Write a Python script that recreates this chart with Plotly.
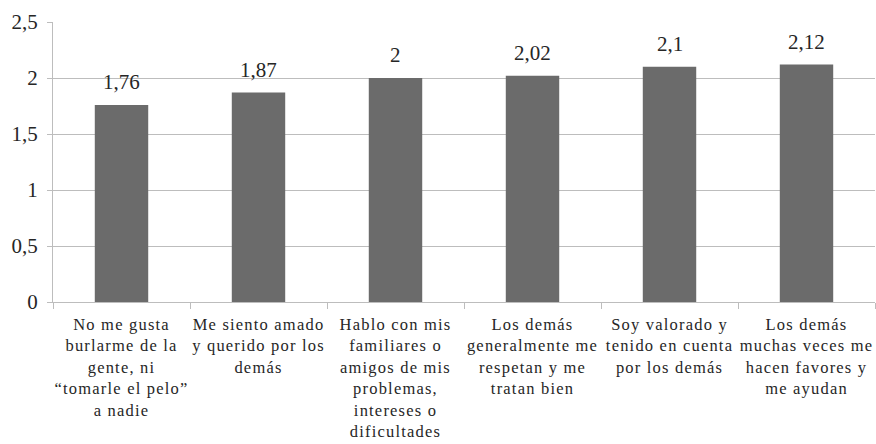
import plotly.graph_objects as go

categories = [
    "No me gusta<br>burlarme de la<br>gente, ni<br>“tomarle el pelo”<br>a nadie",
    "Me siento amado<br>y querido por los<br>demás",
    "Hablo con mis<br>familiares o<br>amigos de mis<br>problemas,<br>intereses o<br>dificultades",
    "Los demás<br>generalmente me<br>respetan y me<br>tratan bien",
    "Soy valorado y<br>tenido en cuenta<br>por los demás",
    "Los demás<br>muchas veces me<br>hacen favores y<br>me ayudan",
]
values = [1.76, 1.87, 2.0, 2.02, 2.1, 2.12]
y_ticks = [0, 0.5, 1, 1.5, 2, 2.5]

FONT = "Liberation Serif"
TEXT = "#262626"
GRID = "#bdbdbd"


def fmt(v):
    return f"{v:g}".replace(".", ",")


def spaced(label):
    # slightly wider tracking for the category captions
    return "<br>".join(
        f'<span style="letter-spacing:1.2px">{line}</span>' for line in label.split("<br>")
    )


fig = go.Figure(
    go.Bar(
        x=categories,
        y=values,
        marker=dict(color="#6b6b6b", line=dict(width=0)),
        hoverinfo="skip",
    )
)

for c, v in zip(categories, values):
    fig.add_annotation(
        x=c, y=v, text=fmt(v), showarrow=False,
        yanchor="bottom", yshift=9,
        font=dict(family=FONT, size=21, color=TEXT),
    )

fig.update_layout(
    width=876,
    height=444,
    margin=dict(l=53, r=1, t=22, b=142),
    paper_bgcolor="white",
    plot_bgcolor="white",
    bargap=0.61,
    showlegend=False,
    font=dict(family=FONT, color=TEXT),
)

fig.update_xaxes(
    type="category",
    tickmode="array",
    tickvals=categories,
    ticktext=[spaced(c) for c in categories],
    tickson="boundaries",
    ticks="outside",
    ticklen=6,
    tickcolor=GRID,
    tickwidth=1,
    showline=True,
    linecolor=GRID,
    linewidth=1,
    showgrid=False,
    tickangle=0,
    automargin=False,
    ticklabelstandoff=7,
    tickfont=dict(family=FONT, size=16.5, color=TEXT),
)

fig.update_yaxes(
    range=[0, 2.5],
    tickvals=y_ticks,
    ticktext=[fmt(t) for t in y_ticks],
    ticks="outside",
    ticklen=5,
    tickcolor=GRID,
    showline=True,
    linecolor=GRID,
    linewidth=1,
    showgrid=True,
    gridcolor=GRID,
    gridwidth=1,
    zeroline=False,
    automargin=False,
    ticklabelstandoff=5,
    tickfont=dict(family=FONT, size=21, color=TEXT),
)

fig.write_html("out.html")
